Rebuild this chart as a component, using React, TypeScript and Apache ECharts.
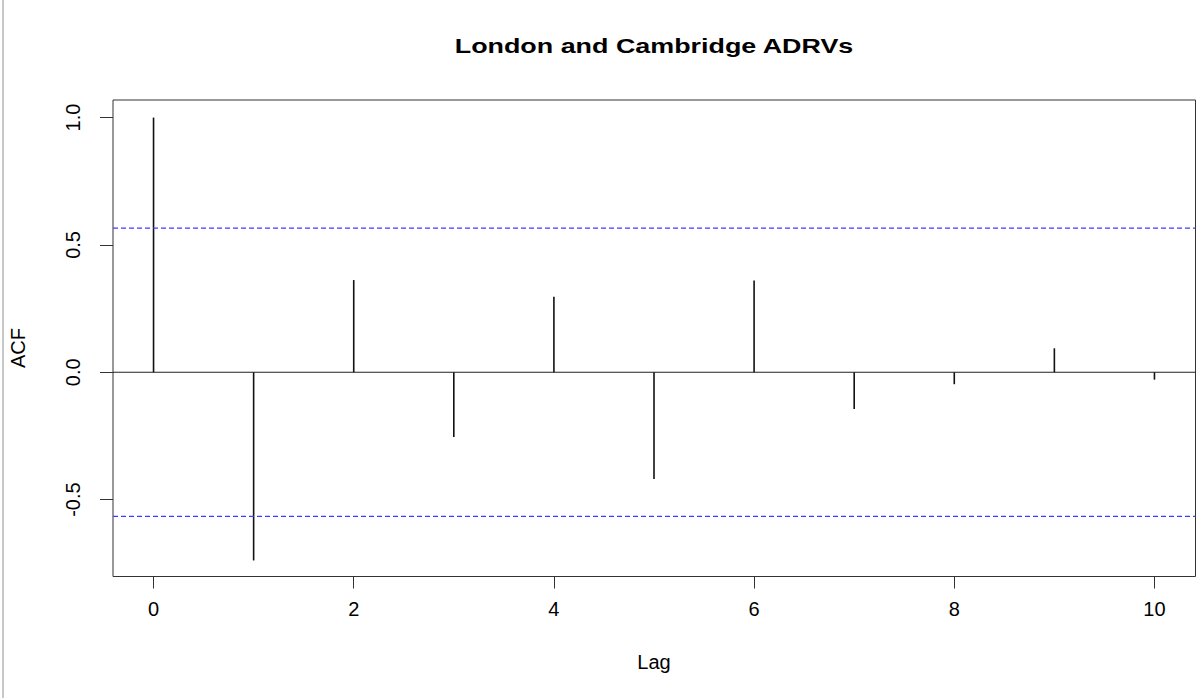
import React, { useEffect, useRef } from 'react';
import * as echarts from 'echarts';

const lags = [0, 1, 2, 3, 4, 5, 6, 7, 8, 9, 10];
const acfValues = [1.0, -0.739, 0.362, -0.254, 0.296, -0.419, 0.36, -0.144, -0.047, 0.094, -0.029];
const ciBound = 0.566;
const xRange = [-0.405, 10.41];
const yRange = [-0.802, 1.069];
const xTicks = [0, 2, 4, 6, 8, 10];
const yTicks = [-0.5, 0, 0.5, 1.0];
const titleText = 'London and Cambridge ADRVs';
const xName = 'Lag';
const yName = 'ACF';

const FONT = '"Liberation Sans", Arial, sans-serif';

export default function App() {
  const ref = useRef<HTMLDivElement>(null);
  useEffect(() => {
    if (!ref.current) return;
    const chart = echarts.init(ref.current, null, { renderer: 'svg' });
    const data = lags.map((l, i) => [l, acfValues[i]]);
    const hLine = (y: number, color: string, type: any, width: number) => ({
      type: 'line',
      data: [
        [xRange[0], y],
        [xRange[1], y],
      ],
      silent: true,
      symbol: 'none',
      showSymbol: false,
      clip: true,
      lineStyle: { color, type, width, opacity: 1 },
      itemStyle: { color },
      emphasis: { disabled: true },
    });
    chart.setOption({
      animation: false,
      backgroundColor: '#fff',
      grid: {
        left: 113,
        top: 100,
        right: 1.5,
        bottom: 121.5,
        show: true,
        borderColor: '#333',
        borderWidth: 1,
        backgroundColor: 'transparent',
        containLabel: false,
        outerBoundsMode: 'none',
      },
      xAxis: {
        type: 'value',
        min: xRange[0],
        max: xRange[1],
        axisLine: { show: false, onZero: false },
        splitLine: { show: false },
        axisTick: {
          show: true,
          inside: false,
          length: 12,
          customValues: xTicks,
          lineStyle: { color: '#333', width: 1 },
        },
        axisLabel: {
          customValues: xTicks,
          margin: 22,
          fontSize: 20,
          fontFamily: FONT,
          color: '#000',
          formatter: (v: number) => String(v),
        },
      },
      yAxis: {
        type: 'value',
        min: yRange[0],
        max: yRange[1],
        axisLine: { show: false, onZero: false },
        splitLine: { show: false },
        axisTick: {
          show: true,
          inside: false,
          length: 13,
          customValues: yTicks,
          lineStyle: { color: '#333', width: 1 },
        },
        axisLabel: {
          customValues: yTicks,
          rotate: 90,
          margin: 30,
          fontSize: 20,
          fontFamily: FONT,
          color: '#000',
          formatter: (v: number) => v.toFixed(1),
        },
      },
      graphic: [
        {
          type: 'line',
          shape: { x1: 3, y1: 0, x2: 3, y2: 698 },
          style: { stroke: '#c8c8c8', lineWidth: 2 },
        },
        {
          type: 'text',
          x: 654,
          y: 46,
          scaleX: 1.28,
          style: {
            text: titleText,
            fontSize: 21,
            fontWeight: 'bold',
            fontFamily: FONT,
            fill: '#000',
            textAlign: 'center',
            textVerticalAlign: 'middle',
          },
        },
        {
          type: 'text',
          x: 654,
          y: 662,
          style: {
            text: xName,
            fontSize: 20,
            fontFamily: FONT,
            fill: '#000',
            textAlign: 'center',
            textVerticalAlign: 'middle',
          },
        },
        {
          type: 'text',
          x: 18,
          y: 348,
          rotation: Math.PI / 2,
          style: {
            text: yName,
            fontSize: 20,
            fontFamily: FONT,
            fill: '#000',
            textAlign: 'center',
            textVerticalAlign: 'middle',
          },
        },
      ],
      series: [
        hLine(0, '#222', 'solid', 1.2),
        hLine(ciBound, '#3c3cff', [5, 3], 1.2),
        hLine(-ciBound, '#3c3cff', [5, 3], 1.2),
        {
          type: 'custom',
          data,
          silent: true,
          renderItem: (params: any, api: any) => {
            const x = api.value(0);
            const y = api.value(1);
            const p0 = api.coord([x, 0]);
            const p1 = api.coord([x, y]);
            return {
              type: 'line',
              shape: { x1: p0[0], y1: p0[1], x2: p1[0], y2: p1[1] },
              style: { stroke: '#111', lineWidth: 1.6 },
            };
          },
        },
      ],
    });
    return () => chart.dispose();
  }, []);
  return (
    <div
      ref={ref}
      style={{ position: 'absolute', left: 0, top: 0, width: 1197, height: 698 }}
    />
  );
}
